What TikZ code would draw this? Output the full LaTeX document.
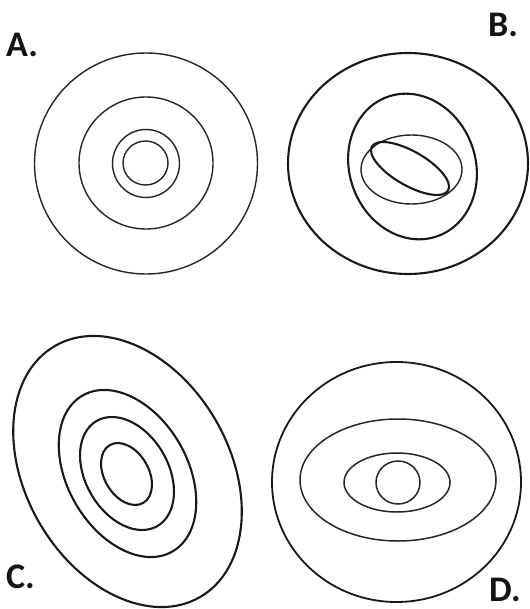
\documentclass[tikz,border=0pt]{standalone}
\usepackage{fontspec}
\setmainfont{Carlito}
\begin{document}
\begin{tikzpicture}[x=1pt,y=-1pt,
  thinring/.style={draw=black!85,line width=1.4pt},
  thickring/.style={draw=black!90,line width=2.1pt},
  lab/.style={font=\fontsize{36}{40}\selectfont\bfseries,anchor=base west,inner sep=0pt,text=black!92}]
\fill[white] (0,0) rectangle (529,609);
\useasboundingbox (0,0) rectangle (529,609);
% A
\node[lab] (lA) at (6,57) {A.};
\draw[thinring] (146,163.5) ellipse [x radius=111.5, y radius=110.5];
\draw[thinring] (146,163) ellipse [x radius=67, y radius=66];
\draw[thinring] (146,163.5) ellipse [x radius=33.5, y radius=34];
\draw[thinring] (145.5,163) ellipse [x radius=22.5, y radius=22];
% B
\node[lab] (lB) at (488,37) {B.};
\draw[thickring] (408,163.5) ellipse [x radius=120, y radius=110.5];
\draw[thickring,shift={(412.5,166.5)},rotate=20] (0,0) ellipse [x radius=63, y radius=74];
\draw[thinring] (411.5,169.5) ellipse [x radius=50.5, y radius=34.5];
\draw[thickring,shift={(410,168.5)},rotate=-30] (0,0) ellipse [x radius=44, y radius=17];
% C
\node[lab] (lC) at (6,588) {C.};
\draw[thickring,shift={(127.5,471.5)},rotate=30] (0,0) ellipse [x radius=102, y radius=145];
\draw[thickring,shift={(127.5,473.5)},rotate=30] (0,0) ellipse [x radius=60, y radius=90];
\draw[thickring,shift={(127,473.5)},rotate=30] (0,0) ellipse [x radius=41.4, y radius=60.7];
\draw[thickring,shift={(126.5,474)},rotate=30] (0,0) ellipse [x radius=22.2, y radius=33.4];
% D
\node[lab] (lD) at (489,601) {D.};
\draw[thickring,line width=1.8pt] (396.5,482) ellipse [x radius=124.5, y radius=120];
\draw[thinring,line width=1.5pt] (398,480) ellipse [x radius=98, y radius=61];
\draw[thinring,line width=1.5pt] (397,482.5) ellipse [x radius=53, y radius=29.5];
\draw[thinring,line width=1.5pt] (398,482.5) ellipse [x radius=22, y radius=21.5];
\end{tikzpicture}
\end{document}
